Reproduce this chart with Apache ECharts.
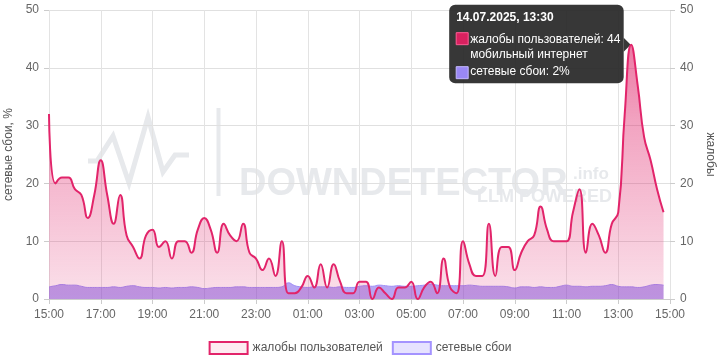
<!DOCTYPE html>
<html><head><meta charset="utf-8">
<script src="https://cdn.jsdelivr.net/npm/echarts@6/dist/echarts.min.js"></script>
<style>html,body{margin:0;padding:0;background:#fff}#c{width:720px;height:360px}</style>
</head><body><div id="c"></div>
<script>
// x categories: 15-minute steps from 15:00 to 15:00 next day
const times = [];
for (let i = 0; i <= 96; i++) {
  const m = (15 * 60 + i * 15) % 1440;
  times.push(String(Math.floor(m / 60)).padStart(2, '0') + ':' + String(m % 60).padStart(2, '0'));
}
const seriesNames = ['жалобы пользователей', 'сетевые сбои'];
const complaints = [
  32,20,21,21,19,18,14,18,24,18,
  13,18,11,9,7,11,12,9,10,7,
  10,10,8,12,14,12,8,13,11,10,
  13,8,7,5,7,4,10,1,1,2,
  4,2,6,2,6,3,1,1,3,3,
  0,2,1,0,2,2,3,0,2,3,
  1,7,2,1,10,6,4,4,13,4,
  9,9,5,8,10,11,16,12,10,10,
  10,15,19,8,13,11,8,13,15,32,
  44,37,28,24,19,15
];
const outages = [
  2.1,2.3,2.5,2.4,2.4,2.2,2.0,2.0,2.0,2.0,
  2.1,2.0,2.2,2.3,2.1,2.0,2.0,1.9,2.0,1.9,
  2.0,2.0,2.1,2.0,1.8,1.9,2.0,2.0,2.0,2.1,
  2.1,2.0,2.0,2.0,2.0,2.0,2.1,2.8,2.3,2.1,
  2.0,2.1,2.1,2.1,2.0,2.1,2.0,2.0,2.2,2.3,
  2.2,2.4,2.3,2.2,2.3,2.2,2.2,2.3,2.4,2.6,
  2.4,2.3,2.3,2.3,2.3,2.4,2.3,2.2,2.2,2.2,
  2.2,2.1,1.9,2.1,2.1,2.0,2.1,2.0,2.0,2.2,
  2.4,2.2,2.2,2.1,2.2,2.2,2.3,2.5,2.2,2.1,
  2.1,2.0,2.1,2.4,2.5,2.4
];
const tipIndex = 90;
const tipTitle = '14.07.2025, 13:30';
const tipSubtitle = 'мобильный интернет';

const FONT = "'Liberation Sans', Arial, sans-serif";
const PINK = '#e2246a';
const PURPLE = '#9d8cf6';
const WM = '#e7e9ec';

const chart = echarts.init(document.getElementById('c'), null, {renderer: 'canvas'});
const option = {
  animation: false,
  textStyle: {fontFamily: FONT},
  grid: {left: 49, right: 50, top: 10, bottom: 61, containLabel: false, outerBoundsMode: 'none'},
  legend: {
    left: 'center', top: 336,
    itemWidth: 38, itemHeight: 12, itemGap: 9,
    textStyle: {fontSize: 12, color: '#555', fontFamily: FONT},
    data: [
      {name: seriesNames[0], icon: 'rect', itemStyle: {color: '#fdebf1', borderColor: PINK, borderWidth: 2}},
      {name: seriesNames[1], icon: 'rect', itemStyle: {color: '#e6e2ff', borderColor: '#a493ff', borderWidth: 2}}
    ]
  },
  xAxis: {
    type: 'category', data: times, boundaryGap: false,
    axisLine: {lineStyle: {color: '#ccc'}},
    axisTick: {interval: 7, length: 5, lineStyle: {color: '#ccc'}},
    axisLabel: {interval: 7, color: '#666', fontSize: 12, margin: 10, fontFamily: FONT},
    splitLine: {show: true, interval: 7, lineStyle: {color: '#e3e3e3'}}
  },
  yAxis: [
    {
      type: 'value', min: 0, max: 50, interval: 10, position: 'left',
      name: 'сетевые сбои, %', nameLocation: 'middle', nameGap: 28,
      nameTextStyle: {color: '#555', fontSize: 12, fontFamily: FONT},
      axisLine: {show: false},
      axisTick: {show: true, length: 5, lineStyle: {color: '#ccc'}},
      axisLabel: {color: '#666', fontSize: 12, margin: 10, fontFamily: FONT},
      splitLine: {lineStyle: {color: '#e0e0e0'}}
    },
    {
      type: 'value', min: 0, max: 50, interval: 10, position: 'right',
      name: 'жалобы', nameLocation: 'middle', nameGap: 30, nameRotate: -90,
      nameTextStyle: {color: '#555', fontSize: 12, fontFamily: FONT},
      axisLine: {show: false},
      axisTick: {show: true, length: 5, lineStyle: {color: '#ccc'}},
      axisLabel: {color: '#666', fontSize: 12, margin: 10, fontFamily: FONT},
      splitLine: {show: false}
    }
  ],
  series: [
    {
      name: seriesNames[0], type: 'line', yAxisIndex: 1, data: complaints,
      smooth: 0.5, showSymbol: false, z: 3,
      lineStyle: {color: PINK, width: 2},
      itemStyle: {color: PINK},
      areaStyle: {color: new echarts.graphic.LinearGradient(0, 0, 0, 1, [
        {offset: 0, color: 'rgba(224,36,106,0.88)'},
        {offset: 0.3, color: 'rgba(224,36,106,0.6)'},
        {offset: 1, color: 'rgba(224,36,106,0.2)'}
      ])}
    },
    {
      name: seriesNames[1], type: 'line', yAxisIndex: 0, data: outages,
      smooth: 0.5, showSymbol: false, z: 2,
      lineStyle: {color: PURPLE, width: 1},
      itemStyle: {color: PURPLE},
      areaStyle: {color: 'rgba(112,78,232,0.72)'}
    }
  ]
};
chart.setOption(option);

// watermark + tooltip box (tooltip anchored to the 13:30 data point)
const pt = chart.convertToPixel({xAxisIndex: 0, yAxisIndex: 1}, [tipIndex, complaints[tipIndex]]);
const bx = pt[0] - 182, by = pt[1] - 40, bw = 174.5, bh = 78.5;
const watermark = [
  {type: 'polyline', z: -5, silent: true,
   shape: {points: [[88,161],[97,161],[113,136],[129,183],[148,117],[163,172],[175,155],[189,155]]},
   style: {stroke: WM, lineWidth: 5, fill: null, lineJoin: 'miter'}},
  {type: 'rect', z: -5, silent: true, shape: {x: 216.5, y: 108, width: 4, height: 88}, style: {fill: WM}},
  {type: 'text', z: -5, silent: true, x: 239, y: 166,
   style: {text: 'DOWNDETECTOR', font: "bold 38px " + FONT, fill: WM, textBaseline: 'alphabetic'}},
  {type: 'text', z: -5, silent: true, x: 573, y: 166,
   style: {text: '.info', font: "bold 17px " + FONT, fill: WM, textBaseline: 'alphabetic'}},
  {type: 'text', z: -5, silent: true, x: 612, y: 188,
   style: {text: 'LLM POWERED', font: "bold 18px " + FONT, fill: WM, textAlign: 'right', textBaseline: 'alphabetic'}}
];
const tooltip = {
  type: 'group', z: 100,
  children: [
    {type: 'rect', shape: {x: bx, y: by, width: bw, height: bh, r: 6}, style: {fill: 'rgba(38,38,38,0.92)'}},
    {type: 'polygon', shape: {points: [[bx + bw, by + 33], [bx + bw + 7, by + 40], [bx + bw, by + 47]]}, style: {fill: 'rgba(38,38,38,0.92)'}},
    {type: 'text', x: bx + 7, y: by + 13, style: {text: tipTitle, font: "bold 12px " + FONT, fill: '#fff', textVerticalAlign: 'middle'}},
    {type: 'rect', shape: {x: bx + 7, y: by + 28, width: 12, height: 12}, style: {fill: '#d8215f', stroke: '#ff5c95', lineWidth: 1}},
    {type: 'text', x: bx + 21, y: by + 35, style: {text: seriesNames[0] + ': ' + complaints[tipIndex], font: "12px " + FONT, fill: '#fff', textVerticalAlign: 'middle'}},
    {type: 'text', x: bx + 21, y: by + 50, style: {text: tipSubtitle, font: "12px " + FONT, fill: '#fff', textVerticalAlign: 'middle'}},
    {type: 'rect', shape: {x: bx + 7, y: by + 62, width: 12, height: 12}, style: {fill: '#9a88f5', stroke: '#c4b8ff', lineWidth: 1}},
    {type: 'text', x: bx + 21, y: by + 67, style: {text: seriesNames[1] + ': ' + Math.round(outages[tipIndex]) + '%', font: "12px " + FONT, fill: '#fff', textVerticalAlign: 'middle'}}
  ]
};
chart.setOption({graphic: watermark.concat([tooltip])});
</script>
</body></html>
